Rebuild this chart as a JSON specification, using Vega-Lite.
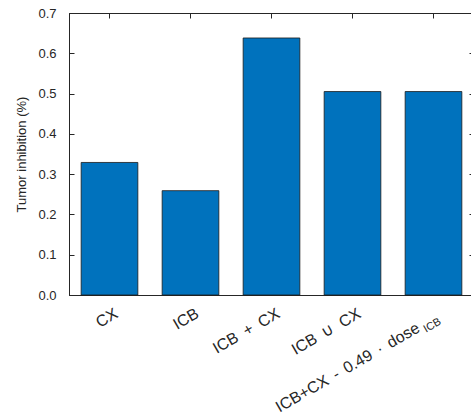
{
  "$schema": "https://vega.github.io/schema/vega-lite/v6.json",
  "width": 405,
  "height": 282,
  "autosize": {"type": "none"},
  "padding": {"left": 69, "top": 13, "right": 0, "bottom": 119},
  "background": "white",
  "config": {
    "view": {"stroke": "#262626", "strokeWidth": 1},
    "font": "Liberation Sans",
    "axis": {
      "domainColor": "#262626",
      "tickColor": "#262626",
      "labelColor": "#262626",
      "titleColor": "#262626",
      "labelFont": "Liberation Sans",
      "titleFont": "Liberation Sans",
      "labelFontSize": 13,
      "titleFontSize": 13,
      "titleFontWeight": "normal",
      "grid": false
    }
  },
  "data": {
    "values": [
      {"treatment": "CX", "inhibition": 0.329, "main": "", "sub": ""},
      {"treatment": "ICB", "inhibition": 0.259, "main": "", "sub": ""},
      {"treatment": "ICB\u2002+\u2002CX", "inhibition": 0.638, "main": "", "sub": ""},
      {"treatment": "ICB\u2002∪\u2002CX", "inhibition": 0.505, "main": "", "sub": ""},
      {"treatment": "ICB+CX - 0.49 · dose_ICB", "inhibition": 0.505, "main": "ICB+CX \u2006- \u20060.49 \u2006· \u2006dose", "sub": "ICB"}
    ]
  },
  "layer": [
    {
      "mark": {"type": "bar", "fill": "#0072BD", "stroke": "#1a1a1a", "strokeWidth": 0.8},
      "encoding": {
        "x": {
          "field": "treatment",
          "type": "nominal",
          "sort": null,
          "scale": {"paddingInner": 0.3, "paddingOuter": 0.15},
          "axis": {
            "orient": "bottom",
            "title": null,
            "labelAngle": -30,
            "labelAlign": "right",
            "labelBaseline": "top",
            "labelFontSize": 16,
            "tickSize": -5,
            "labelPadding": 15,
            "labelOffset": 3,
            "labelExpr": "datum.index == 1 ? '' : datum.label"
          }
        },
        "y": {
          "field": "inhibition",
          "type": "quantitative",
          "scale": {"domain": [0, 0.7], "nice": false},
          "axis": {
            "orient": "left",
            "title": "Tumor inhibition (%)",
            "values": [0, 0.1, 0.2, 0.3, 0.4, 0.5, 0.6, 0.7],
            "tickSize": -5,
            "labelPadding": 18,
            "titlePadding": 9
          }
        }
      }
    },
    {
      "mark": {"type": "bar", "opacity": 0},
      "encoding": {
        "x": {
          "field": "treatment",
          "type": "nominal",
          "sort": null,
          "axis": {"orient": "top", "title": null, "labels": false, "tickSize": -5}
        },
        "y": {
          "field": "inhibition",
          "type": "quantitative",
          "axis": {"orient": "right", "title": null, "labels": false, "tickSize": -5, "values": [0, 0.1, 0.2, 0.3, 0.4, 0.5, 0.6, 0.7]}
        }
      }
    },
    {
      "mark": {"type": "text", "angle": 330, "align": "right", "baseline": "alphabetic", "fontSize": 16, "dx": -29, "dy": 25, "color": "#262626", "font": "Liberation Sans"},
      "encoding": {
        "x": {"field": "treatment", "type": "nominal", "sort": null, "axis": null},
        "y": {"datum": 0, "type": "quantitative", "axis": null},
        "text": {"field": "main"}
      }
    },
    {
      "mark": {"type": "text", "angle": 330, "align": "right", "baseline": "alphabetic", "fontSize": 11, "dx": -7, "dy": 29, "color": "#262626", "font": "Liberation Sans"},
      "encoding": {
        "x": {"field": "treatment", "type": "nominal", "sort": null, "axis": null},
        "y": {"datum": 0, "type": "quantitative", "axis": null},
        "text": {"field": "sub"}
      }
    }
  ],
  "resolve": {"axis": {"x": "independent", "y": "independent"}}
}
